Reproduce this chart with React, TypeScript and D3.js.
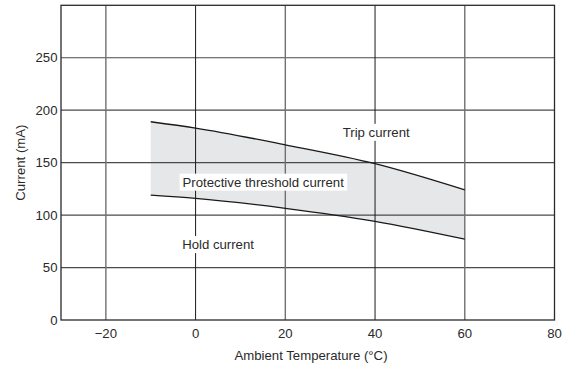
import React, { useEffect, useRef } from "react";
import * as d3 from "d3";

const temps = [-10, 0, 20, 40, 60];
const tripCurrent = [189, 183, 167, 149, 124];
const holdCurrent = [119, 116, 106.5, 94, 77];
const xTicks = [-20, 0, 20, 40, 60, 80];
const yTicks = [0, 50, 100, 150, 200, 250];
const darkX = [0, 40];
const labels = [
  { text: "Trip current", x: 32.8, y: 179 },
  { text: "Protective threshold current", x: -2.9, y: 131.5 },
  { text: "Hold current", x: -3, y: 72 },
];

export default function App() {
  const ref = useRef<SVGSVGElement>(null);
  useEffect(() => {
    const svg = d3.select(ref.current);
    svg.selectAll("*").remove();
    const x = d3.scaleLinear().domain([-30, 80]).range([61, 554.5]);
    const y = d3.scaleLinear().domain([0, 300]).range([320, 5.3]);
    const font = "'Liberation Sans', Arial, sans-serif";
    const fs = 13.2;
    const textColor = "#2a2a2a";
    const data = temps.map((t, i) => ({ t, hi: tripCurrent[i], lo: holdCurrent[i] }));

    const area = d3
      .area<any>()
      .x((d) => x(d.t))
      .y0((d) => y(d.lo))
      .y1((d) => y(d.hi))
      .curve(d3.curveMonotoneX);
    svg.append("path").attr("d", area(data)).attr("fill", "#e6e7e8");

    yTicks.forEach((v) => {
      if (v === 0) return;
      svg
        .append("line")
        .attr("x1", x(-30))
        .attr("x2", x(80))
        .attr("y1", y(v))
        .attr("y2", y(v))
        .attr("stroke", "#4a4a4a")
        .attr("stroke-width", 1.2);
    });
    xTicks.forEach((v) => {
      if (v === 80) return;
      const dark = darkX.includes(v);
      svg
        .append("line")
        .attr("x1", x(v))
        .attr("x2", x(v))
        .attr("y1", y(0))
        .attr("y2", y(300))
        .attr("stroke", dark ? "#1a1a1a" : "#707070")
        .attr("stroke-width", dark ? 1 : 1.4);
    });

    const lineGen = (key: "hi" | "lo") =>
      d3
        .line<any>()
        .x((d) => x(d.t))
        .y((d) => y(d[key]))
        .curve(d3.curveMonotoneX);
    svg.append("path").attr("d", lineGen("hi")(data)).attr("fill", "none").attr("stroke", "#1a1a1a").attr("stroke-width", 1.3);
    svg.append("path").attr("d", lineGen("lo")(data)).attr("fill", "none").attr("stroke", "#1a1a1a").attr("stroke-width", 1.3);

    svg
      .append("rect")
      .attr("x", x(-30))
      .attr("y", y(300))
      .attr("width", x(80) - x(-30))
      .attr("height", y(0) - y(300))
      .attr("fill", "none")
      .attr("stroke", "#2a2a2a")
      .attr("stroke-width", 1.3);

    labels.forEach((l) => {
      const g = svg.append("g");
      const rect = g.append("rect").attr("fill", "#fff");
      const txt = g
        .append("text")
        .attr("x", x(l.x))
        .attr("y", y(l.y))
        .attr("dy", "0.35em")
        .attr("font-family", font)
        .attr("font-size", fs)
        .attr("fill", textColor)
        .text(l.text);
      const bb = (txt.node() as SVGTextElement).getBBox();
      rect
        .attr("x", bb.x - 3)
        .attr("y", bb.y - 1)
        .attr("width", bb.width + 6)
        .attr("height", bb.height + 2);
    });

    yTicks.forEach((v) => {
      svg
        .append("text")
        .attr("x", 57.5)
        .attr("y", y(v))
        .attr("dy", "0.35em")
        .attr("text-anchor", "end")
        .attr("font-family", font)
        .attr("font-size", fs)
        .attr("fill", textColor)
        .text(String(v));
    });
    xTicks.forEach((v) => {
      svg
        .append("text")
        .attr("x", x(v))
        .attr("y", 333)
        .attr("dy", "0.35em")
        .attr("text-anchor", "middle")
        .attr("font-family", font)
        .attr("font-size", fs)
        .attr("fill", textColor)
        .text(v < 0 ? "\u2212" + Math.abs(v) : String(v));
    });

    svg
      .append("text")
      .attr("x", 311)
      .attr("y", 355.5)
      .attr("dy", "0.35em")
      .attr("text-anchor", "middle")
      .attr("font-family", font)
      .attr("font-size", fs)
      .attr("fill", textColor)
      .text("Ambient Temperature (\u00B0C)");
    svg
      .append("text")
      .attr("transform", `translate(20,${y(150)}) rotate(-90)`)
      .attr("dy", "0.35em")
      .attr("text-anchor", "middle")
      .attr("font-family", font)
      .attr("font-size", fs)
      .attr("fill", textColor)
      .text("Current (mA)");
  }, []);
  return (
    <svg
      ref={ref}
      width={574}
      height={365}
      style={{ position: "absolute", left: 0, top: 0, background: "#fff" }}
    />
  );
}
